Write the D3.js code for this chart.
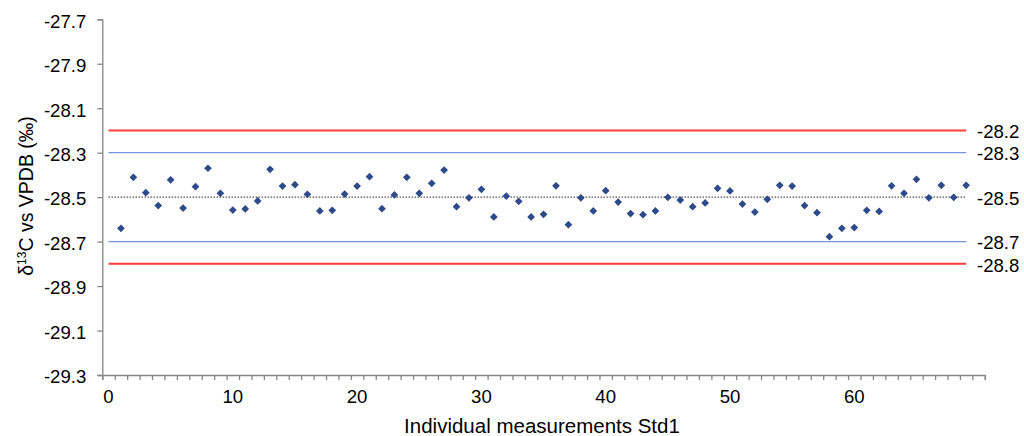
<!DOCTYPE html>
<html>
<head>
<meta charset="utf-8">
<script src="https://cdn.jsdelivr.net/npm/d3@7"></script>
<style>
  html, body { margin: 0; padding: 0; background: #fff; }
  svg { display: block; font-family: "Liberation Sans", Arial, sans-serif; }
</style>
</head>
<body>
<svg id="chart" width="1024" height="436"></svg>
<script>
// Measurement index (categories 1..69)
const measurementIndex = d3.range(1, 70);
// δ13C values
const d13C = [
  -28.640, -28.411, -28.480, -28.538, -28.422, -28.549, -28.453, -28.370, -28.483, -28.558,
  -28.553, -28.517, -28.375, -28.450, -28.444, -28.487, -28.562, -28.559, -28.486, -28.450,
  -28.408, -28.552, -28.490, -28.411, -28.483, -28.438, -28.378, -28.543, -28.503, -28.465,
  -28.589, -28.495, -28.519, -28.589, -28.577, -28.449, -28.624, -28.503, -28.562, -28.471,
  -28.522, -28.574, -28.579, -28.562, -28.501, -28.513, -28.543, -28.526, -28.460, -28.472,
  -28.531, -28.567, -28.510, -28.447, -28.450, -28.538, -28.570, -28.678, -28.640, -28.637,
  -28.559, -28.564, -28.449, -28.483, -28.420, -28.503, -28.447, -28.501, -28.447
];
// Reference lines
const refValues = [-28.2, -28.3, -28.5, -28.7, -28.8];
const refLabels = ["-28.2", "-28.3", "-28.5", "-28.7", "-28.8"];
const refKinds  = ["limit", "warn", "mean", "warn", "limit"];
// Axis ticks
const yTickValues = [-27.7, -27.9, -28.1, -28.3, -28.5, -28.7, -28.9, -29.1, -29.3];
const yTickLabels = ["-27.7", "-27.9", "-28.1", "-28.3", "-28.5", "-28.7", "-28.9", "-29.1", "-29.3"];
const xLabelValues = [0, 10, 20, 30, 40, 50, 60];
const nCategories = 71; // categories 0..70
const lineStart = 0, lineEnd = 69;

const svg = d3.select("#chart");
const plotLeft = 102.3, plotRight = 984.8, plotTop = 19.3, plotBottom = 375;

const xBand = d3.scaleBand().domain(d3.range(nCategories)).range([plotLeft, plotRight]).paddingInner(0).paddingOuter(0);
const xc = i => xBand(i) + xBand.bandwidth() / 2;
const xEdge = d3.scaleLinear().domain([0, nCategories]).range([plotLeft, plotRight]);
const y = d3.scaleLinear().domain([-29.3, -27.7]).range([plotBottom, plotTop]);

const axisColor = "#868686";
const fontSize = 18.6;

// Reference lines
const lineStyles = {
  limit: { stroke: "#ff3b3b", width: 2, dash: null },
  warn:  { stroke: "#7493dc", width: 1.3, dash: null },
  mean:  { stroke: "#555555", width: 1.3, dash: "1.5,1.5" }
};
refValues.forEach((v, k) => {
  const st = lineStyles[refKinds[k]];
  svg.append("line")
    .attr("x1", xc(lineStart)).attr("x2", xc(lineEnd))
    .attr("y1", y(v)).attr("y2", y(v))
    .attr("stroke", st.stroke).attr("stroke-width", st.width)
    .attr("stroke-dasharray", st.dash);
  svg.append("text")
    .attr("x", 977).attr("y", y(v)).attr("dy", "0.42em")
    .attr("font-size", fontSize).attr("fill", "#000")
    .text(refLabels[k]);
});

// Y axis
const yAxis = d3.axisLeft(y).tickValues(yTickValues).tickSize(5).tickPadding(11)
  .tickFormat((d, i) => yTickLabels[i]);
const gy = svg.append("g").attr("transform", `translate(${plotLeft},0)`).call(yAxis);
gy.select(".domain").attr("stroke", axisColor).attr("stroke-width", 1.3);
gy.selectAll(".tick line").attr("stroke", axisColor).attr("stroke-width", 1.3);
gy.selectAll(".tick text").attr("font-size", fontSize).attr("fill", "#000")
  .attr("font-family", "Liberation Sans, Arial, sans-serif").attr("dy", "0.42em");

// X axis: minor ticks at category boundaries
const xAxisTicks = d3.axisBottom(xEdge).tickValues(d3.range(nCategories + 1)).tickSize(5).tickFormat("");
const gx = svg.append("g").attr("transform", `translate(0,${plotBottom})`).call(xAxisTicks);
gx.select(".domain").attr("stroke", axisColor).attr("stroke-width", 1.3);
gx.selectAll(".tick line").attr("stroke", axisColor).attr("stroke-width", 1.3);

// X axis labels centered on categories
const xLabelAxis = d3.axisBottom(xBand).tickValues(xLabelValues).tickSize(0).tickPadding(15);
const gxl = svg.append("g").attr("transform", `translate(0,${plotBottom})`).call(xLabelAxis);
gxl.select(".domain").remove();
gxl.selectAll(".tick text").attr("font-size", fontSize).attr("fill", "#000")
  .attr("font-family", "Liberation Sans, Arial, sans-serif");

// Data points (diamonds)
const diamond = d3.symbol().type(d3.symbolSquare).size(30);
svg.append("g").selectAll("path")
  .data(d13C)
  .join("path")
  .attr("d", diamond)
  .attr("transform", (d, i) => `translate(${xc(measurementIndex[i])},${y(d)}) rotate(45)`)
  .attr("fill", "#2d4a8a");

// Axis titles
svg.append("text")
  .attr("x", 542).attr("y", 433)
  .attr("text-anchor", "middle").attr("font-size", 20.5).attr("fill", "#000")
  .text("Individual measurements Std1");

const yt = svg.append("text")
  .attr("transform", "translate(33,196) rotate(-90)")
  .attr("text-anchor", "middle").attr("font-size", 19.5).attr("fill", "#000");
yt.append("tspan").text("δ");
yt.append("tspan").attr("font-size", 12).attr("dy", -7).text("13");
yt.append("tspan").attr("dy", 7).text("C vs VPDB (‰)");
</script>
</body>
</html>
